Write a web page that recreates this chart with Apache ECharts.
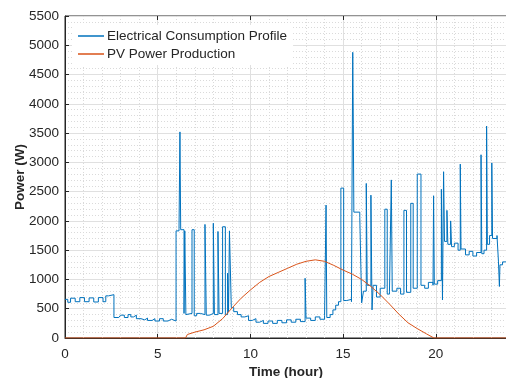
<!DOCTYPE html>
<html>
<head>
<meta charset="utf-8">
<script src="https://cdn.jsdelivr.net/npm/echarts@6/dist/echarts.min.js"></script>
<style>
  html, body { margin: 0; padding: 0; background: #fff; }
  #chart { width: 506px; height: 378px; }
</style>
</head>
<body>
<div id="chart"></div>
<script>
// consumption profile, change points (hour, W) - held until next point
var loadTime = [0, 0.15, 0.3, 0.55, 0.8, 1.05, 1.3, 1.55, 1.8, 2.05, 2.2, 2.35, 2.45, 2.64,
  2.9, 3.0, 3.2, 3.4, 3.55, 3.7, 3.85, 4.1, 4.3, 4.45, 4.7, 4.85, 5.1, 5.3, 5.55, 5.75,
  5.99, 6.15, 6.2, 6.24, 6.42, 6.46, 6.52, 6.6, 6.85, 6.97, 7.1, 7.3, 7.55, 7.62, 7.8,
  8.0, 8.06, 8.25, 8.31, 8.5, 8.65, 8.77, 8.82, 8.87, 8.97, 9.1, 9.3, 9.5, 9.7, 9.9,
  10.1, 10.3, 10.5, 10.7, 10.95, 11.2, 11.45, 11.7, 11.95, 12.2, 12.45, 12.7, 12.95, 13.0,
  13.25, 13.5, 13.75, 14.0, 14.08, 14.12, 14.3, 14.45, 14.6, 14.75, 14.88, 15.03, 15.2,
  15.45, 15.52, 15.55, 15.58, 15.9, 16.0, 16.1, 16.25, 16.3, 16.5, 16.56, 16.62, 16.8,
  17.0, 17.25, 17.38, 17.5, 17.6, 17.65, 17.9, 18.1, 18.28, 18.42, 18.65, 18.78, 19.0,
  19.2, 19.4, 19.6, 19.85, 19.88, 19.92, 20.1, 20.3, 20.36, 20.42, 20.47, 20.6, 20.65,
  20.8, 20.85, 21.0, 21.2, 21.32, 21.36, 21.6, 21.8, 22.0, 22.2, 22.44, 22.48, 22.6,
  22.74, 22.78, 22.9, 23.02, 23.06, 23.3, 23.38, 23.43, 23.46, 23.6, 23.9];
var loadPower = [660, 610, 680, 620, 690, 620, 685, 615, 690, 620, 720, 690, 740, 350,
  330, 390, 350, 400, 360, 390, 330, 310, 340, 300, 330, 290, 330, 290, 320, 290,
  1830, 1870, 3520, 1850, 420, 1830, 400, 420, 1850, 380, 420, 400, 1940, 390, 420,
  1960, 400, 1820, 420, 1900, 400, 1110, 450, 1830, 520, 450, 400, 360, 380, 300,
  330, 270, 300, 250, 290, 250, 300, 260, 310, 270, 320, 280, 1020, 340,
  300, 360, 320, 380, 2270, 350, 400, 480, 560, 620, 2560, 640, 660,
  620, 4880, 3650, 2150, 2060, 600, 800, 2640, 900, 2440, 480, 900, 700,
  850, 2200, 750, 800, 2700, 800, 850, 750, 2180, 780, 2300, 850, 2800,
  900, 850, 950, 900, 2430, 920, 980, 2540, 650, 2840, 1650, 2180, 1600,
  2000, 1560, 1620, 1500, 2970, 1520, 1420, 1480, 1400, 1460, 3130, 1440, 1500,
  3620, 1600, 1750, 2990, 1700, 1750, 1300, 880, 1250, 1300, 1330];

// PV production (hour, W)
var pvTime = [0, 6.5, 6.6, 7.0, 7.5, 8.0, 8.5, 9.0, 9.5, 10.0, 10.5, 11.0, 11.5, 12.0, 12.5,
  13.0, 13.5, 14.0, 14.5, 15.0, 15.5, 16.0, 16.5, 17.0, 17.5, 18.0, 18.5, 19.0, 19.5, 19.9, 23.9];
var pvPower = [0, 0, 60, 100, 140, 200, 330, 510, 680, 820, 950, 1050, 1120, 1190, 1260,
  1310, 1335, 1310, 1240, 1160, 1090, 1000, 880, 740, 580, 410, 260, 160, 70, 0, 0];

var xTicks = [0, 5, 10, 15, 20];

var FONT = 'Liberation Sans, Arial, Helvetica, sans-serif';
var INK = '#262626';

function pairs(xs, ys) {
  return xs.map(function (x, i) { return [x, ys[i]]; });
}

var chart = echarts.init(document.getElementById('chart'));

var axisCommon = {
  axisLine: { show: true, lineStyle: { color: INK, width: 1 } },
  axisTick: { show: true, inside: true, length: 4, lineStyle: { color: INK } },
  minorTick: { show: false, splitNumber: 5 },
  splitLine: { show: true, lineStyle: { color: '#e0e0e0', width: 1 } },
  minorSplitLine: { show: true, lineStyle: { color: '#dadada', width: 1, type: [1, 2] } }
};

chart.setOption({
  animation: false,
  backgroundColor: '#fff',
  textStyle: { fontFamily: FONT },
  grid: {
    left: 65, right: -1, top: 16, bottom: 40,
    containLabel: false, outerBoundsMode: 'none',
    show: true, borderColor: INK, borderWidth: 1, backgroundColor: '#fff'
  },
  legend: {
    orient: 'vertical',
    left: 72, top: 25,
    padding: [4, 6, 4, 6],
    backgroundColor: '#fff',
    itemGap: 4,
    itemWidth: 26, itemHeight: 1.5,
    icon: 'rect',
    textStyle: { fontFamily: FONT, fontSize: 13.5, color: INK, padding: [0, 0, 0, -2] },
    data: ['Electrical Consumption Profile', 'PV Power Production']
  },
  xAxis: [
    Object.assign({}, axisCommon, {
      type: 'value', min: 0, max: 23.84, interval: 5,
      name: 'Time (hour)', nameLocation: 'middle', nameGap: 27, nameMoveOverlap: false,
      nameTextStyle: { fontFamily: FONT, fontSize: 13.5, fontWeight: 'bold', color: INK },
      axisLabel: {
        fontFamily: FONT, fontSize: 13.5, color: INK, margin: 9,
        formatter: function (v) { return xTicks.indexOf(v) >= 0 ? String(v) : ''; }
      }
    }),
    {
      type: 'value', position: 'top', min: 0, max: 23.84, interval: 5,
      axisLine: { show: false },
      axisTick: { show: true, inside: true, length: 4, lineStyle: { color: INK } },
      axisLabel: { show: false }, splitLine: { show: false }
    }
  ],
  yAxis: Object.assign({}, axisCommon, {
    type: 'value', min: 0, max: 5500, interval: 500,
    name: 'Power (W)', nameLocation: 'middle', nameGap: 38, nameRotate: 90, nameMoveOverlap: false,
    nameTextStyle: { fontFamily: FONT, fontSize: 13.5, fontWeight: 'bold', color: INK },
    axisLabel: {
      fontFamily: FONT, fontSize: 13.5, color: INK, margin: 6,
      formatter: function (v) { return String(v); }
    }
  }),
  series: [
    {
      name: 'Electrical Consumption Profile',
      type: 'line', step: 'end', showSymbol: false, symbol: 'none',
      color: '#0072BD',
      lineStyle: { width: 1, color: '#0072BD' },
      data: pairs(loadTime, loadPower),
      z: 3
    },
    {
      name: 'PV Power Production',
      type: 'line', showSymbol: false, symbol: 'none',
      color: '#D95319',
      lineStyle: { width: 1, color: '#D95319' },
      data: pairs(pvTime, pvPower),
      z: 4
    }
  ]
});
</script>
</body>
</html>
